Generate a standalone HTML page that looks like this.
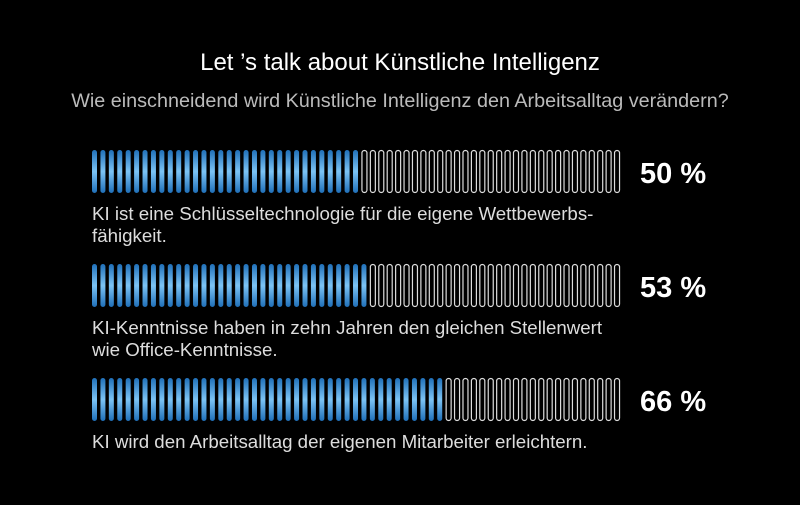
<!DOCTYPE html>
<html><head><meta charset="utf-8"><style>
body{margin:0;background:#000;width:800px;height:500px;overflow:hidden;font-family:"Liberation Sans",sans-serif;}
</style></head><body>
<svg width="800" height="500">
<defs><linearGradient id="bl" x1="0" y1="0" x2="0" y2="1"><stop offset="0" stop-color="#1f6fb8"/><stop offset="0.5" stop-color="#7cc4f5"/><stop offset="1" stop-color="#1f6fb8"/></linearGradient></defs>
<text x="400" y="70" text-anchor="middle" fill="#fff" font-size="24">Let ’s talk about Künstliche Intelligenz</text>
<text x="400" y="107" text-anchor="middle" fill="#bbb" font-size="19.8">Wie einschneidend wird Künstliche Intelligenz den Arbeitsalltag verändern?</text>
<g id="bars"></g>
</svg>
<script>
const values=[50,53,66];
const labels=[["KI ist eine Schlüsseltechnologie für die eigene Wettbewerbs-","fähigkeit."],["KI-Kenntnisse haben in zehn Jahren den gleichen Stellenwert","wie Office-Kenntnisse."],["KI wird den Arbeitsalltag der eigenen Mitarbeiter erleichtern."]];
const valueLabels=["50 %","53 %","66 %"];
const N=63,x0=92,pitch=8.42,tops=[150,264,378],h=43;
const g=document.getElementById('bars');const ns='http://www.w3.org/2000/svg';
function mk(t,a){const e=document.createElementNS(ns,t);for(const k in a)e.setAttribute(k,a[k]);return e;}
values.forEach((v,i)=>{
 const grp=mk('g',{});
 
 
 const filled=Math.round(v/100*N);
 for(let j=0;j<N;j++){
  const x=x0+j*pitch;
  let r;
  if(j<filled) r=mk('rect',{x:x,y:tops[i],width:5,height:h,rx:2.5,fill:'url(#bl)'});
  else r=mk('rect',{x:x+0.5,y:tops[i]+0.5,width:5,height:h-1,rx:2.5,fill:'none',stroke:'#ddd','stroke-width':1.2});
  
  
  grp.appendChild(r);
 }
 const t=mk('text',{x:640,y:tops[i]+33,fill:'#fff','font-size':29,'font-weight':'bold'});
 t.textContent=valueLabels[i];
 
 
 grp.appendChild(t);
 labels[i].forEach((l,k)=>{
  const lt=mk('text',{x:92,y:tops[i]+70+k*22,fill:'#ddd','font-size':18.7});
  lt.textContent=l;
  
  
  grp.appendChild(lt);
 });
 g.appendChild(grp);
});
</script>
</body></html>
